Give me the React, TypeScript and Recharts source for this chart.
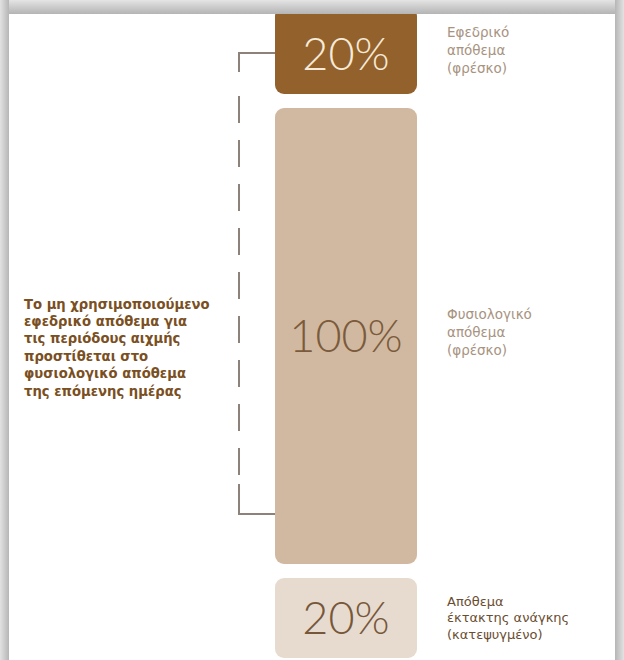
import { BarChart, Bar, XAxis, YAxis, LabelList } from 'recharts'

// one stacked column: bottom -> top
const seriesKeys = ['emergency', 'normal', 'reserve']
const shares = [20, 100, 20]
const barColors = ['#e7dbcf', '#d1b9a1', '#93612b']
const valueColors = ['#77573a', '#7b5b3b', '#f6ead8']
const sideLabels = [
  ['Απόθεμα', 'έκτακτης ανάγκης', '(κατεψυγμένο)'],
  ['Φυσιολογικό', 'απόθεμα', '(φρέσκο)'],
  ['Εφεδρικό', 'απόθεμα', '(φρέσκο)'],
]
const sideColors = ['#6a4d31', '#a8937f', '#a8937f']
const noteLines = [
  'Το μη χρησιμοποιούμενο',
  'εφεδρικό απόθεμα για',
  'τις περιόδους αιχμής',
  'προστίθεται στο',
  'φυσιολογικό απόθεμα',
  'της επόμενης ημέρας',
]

const row: Record<string, number | string> = { name: 'απόθεμα' }
seriesKeys.forEach((k, i) => {
  row[k] = shares[i]
})
const data = [row]

const GAP = 7
const LABEL_FONT = '"DejaVu Sans", Verdana, sans-serif'
const NUM_FONT = 'Lato, "Open Sans", sans-serif'

function Block(props: any) {
  const { x, y, width, height, fill, withBracket, topGap = GAP } = props
  const top = y + topGap
  const h = height - GAP - topGap
  if (h <= 0) return null
  const rect = <rect x={x} y={top} width={width} height={h} rx={9} ry={9} fill={fill} />
  if (!withBracket) return rect

  // bracket + note tied to the middle (normal) block
  const bx = x - 36
  const bTop = top - 55
  const bBot = top + h - 50
  const cy = top + h / 2 + 11
  const stroke = '#8c8279'
  return (
    <g>
      {rect}
      <path d={`M${x},${bTop} H${bx} V${bTop + 19}`} stroke={stroke} strokeWidth={2} fill="none" />
      <line
        x1={bx}
        x2={bx}
        y1={bTop + 43}
        y2={bBot - 30}
        stroke={stroke}
        strokeWidth={2}
        strokeDasharray="27 17"
      />
      <path d={`M${bx},${bBot - 30} V${bBot} H${x}`} stroke={stroke} strokeWidth={2} fill="none" />
      {noteLines.map((t, i) => (
        <text
          key={i}
          x={24}
          y={cy + (i - 2.5) * 17.4 + 5}
          fill="#7a4f22"
          fontFamily={LABEL_FONT}
          fontWeight={700}
          fontSize={13.2}
        >
          {t}
        </text>
      ))}
    </g>
  )
}

function sideLabel(idx: number) {
  return (props: any) => {
    const { x, y, width, height } = props
    const cy = y + height / 2 - (idx === 0 ? 1 : 4)
    const step = idx === 0 ? 16.5 : 18
    return (
      <g>
        {sideLabels[idx].map((t, i) => (
          <text
            key={i}
            x={x + width + 30}
            y={cy + (i - 1) * step + 5}
            fill={sideColors[idx]}
            fontFamily={LABEL_FONT}
            fontSize={idx === 0 ? 13 : 13.5}
          >
            {t}
          </text>
        ))}
      </g>
    )
  }
}

const band = 'linear-gradient(to bottom, #e4e4e4, #b4b4b4)'

export default function App() {
  return (
    <div style={{ position: 'absolute', left: 0, top: 0, width: 624, height: 660, overflow: 'hidden', background: '#fff' }}>
      <BarChart
        width={624}
        height={665}
        data={data}
        margin={{ top: 7, right: 162, bottom: 0, left: 230 }}
      >
        <XAxis dataKey="name" hide />
        <YAxis domain={[0, 140]} hide />
        {seriesKeys.map((k, i) => (
          <Bar
            key={k}
            dataKey={k}
            stackId="stock"
            barSize={142}
            fill={barColors[i]}
            isAnimationActive={false}
            shape={(p: any) => (
              <Block
                {...p}
                fill={barColors[i]}
                withBracket={k === 'normal'}
                topGap={k === 'reserve' ? 0 : GAP}
              />
            )}
          >
            <LabelList
              dataKey={k}
              position="center"
              formatter={(v: any) => `${v}%`}
              fill={valueColors[i]}
              fontFamily={NUM_FONT}
              fontWeight={300}
              fontSize={45}
            />
            <LabelList dataKey={k} content={sideLabel(i)} />
          </Bar>
        ))}
      </BarChart>
      {/* screenshot frame */}
      <div style={{ position: 'absolute', left: 0, top: 0, width: 624, height: 14, background: band }} />
      <div style={{ position: 'absolute', left: 0, top: 0, width: 9, height: 660, background: 'linear-gradient(to right, #e2e2e2, #b6b6b6)' }} />
      <div style={{ position: 'absolute', right: 0, top: 0, width: 9, height: 660, background: 'linear-gradient(to left, #e2e2e2, #b6b6b6)' }} />
    </div>
  )
}
